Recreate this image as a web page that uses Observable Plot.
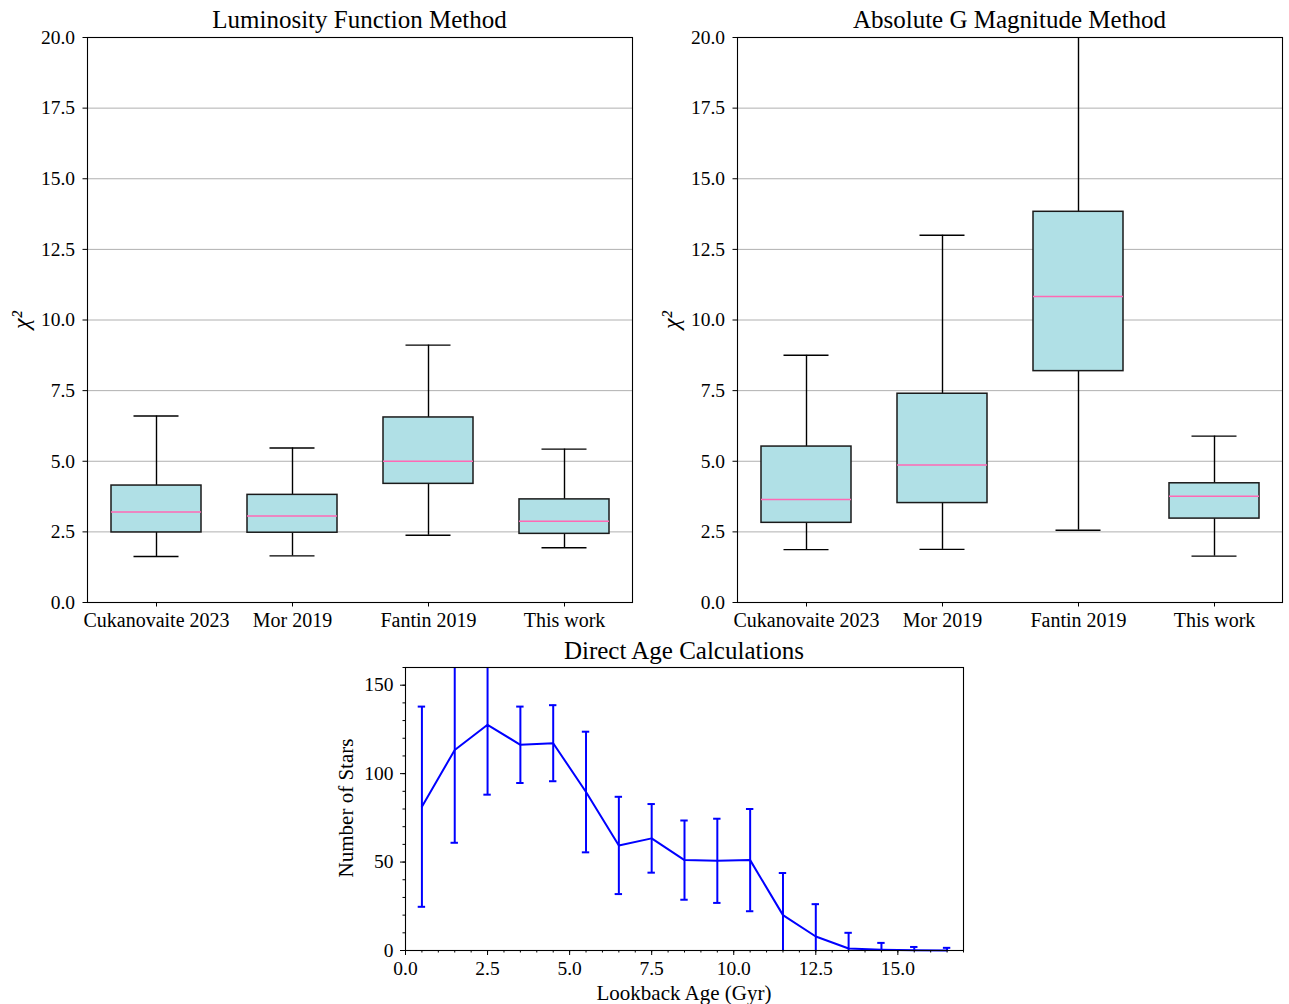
<!DOCTYPE html>
<html><head><meta charset="utf-8">
<script src="https://cdn.jsdelivr.net/npm/d3@7"></script>
<script src="https://cdn.jsdelivr.net/npm/@observablehq/plot@0.6"></script>
<style>
body{margin:0;background:#fff;}
#fig{position:relative;width:1289px;height:1004px;font-family:"Liberation Serif","Times New Roman",serif;color:#000;overflow:hidden;}
.p{position:absolute;}
.t{position:absolute;line-height:28px;white-space:nowrap;transform:translate(-50%,-50%);}
.yl{position:absolute;white-space:nowrap;line-height:1;transform:translate(-50%,-50%) rotate(-90deg);}
svg text{font-variant:normal;}
</style></head><body><div id="fig"></div>
<script>
// ---- data ----
const methods = ["Cukanovaite 2023", "Mor 2019", "Fantin 2019", "This work"];
const boxTicks = [0, 2.5, 5, 7.5, 10, 12.5, 15, 17.5, 20];

// Luminosity Function Method (whisker low, Q1, median, Q3, whisker high)
const lumLow  = [1.63, 1.65, 2.38, 1.94];
const lumQ1   = [2.48, 2.47, 4.20, 2.43];
const lumMed  = [3.20, 3.06, 5.00, 2.88];
const lumQ3   = [4.14, 3.81, 6.55, 3.65];
const lumHigh = [6.60, 5.47, 9.11, 5.43];

// Absolute G Magnitude Method
const absLow  = [1.87, 1.88, 2.56, 1.64];
const absQ1   = [2.82, 3.52, 8.19, 2.97];
const absMed  = [3.65, 4.87, 10.83, 3.76];
const absQ3   = [5.52, 7.39, 13.83, 4.22];
const absHigh = [8.75, 13.00, 21.5, 5.89];

// Direct Age Calculations
const ages   = [0.5, 1.5, 2.5, 3.5, 4.5, 5.5, 6.5, 7.5, 8.5, 9.5, 10.5, 11.5, 12.5, 13.5, 14.5, 15.5, 16.5];
const counts = [81.3, 113.4, 127.6, 116.3, 117.2, 89.6, 59.4, 63.4, 51.1, 50.7, 51.1, 20.0, 7.9, 1.1, 0.4, 0.1, 0.05];
const errs   = [56.6, 52.5, 39.5, 21.6, 21.5, 34.1, 27.5, 19.4, 22.4, 23.8, 28.9, 23.8, 18.3, 8.9, 3.9, 1.9, 1.45];
const ageMajor = [0, 2.5, 5, 7.5, 10, 12.5, 15];
const ageMinor = d3.range(0, 17.01, 0.5);
const starMajor = [0, 50, 100, 150];
const starMinor = d3.range(0, 161, 10);

// ---- drawing ----
const fig = document.getElementById("fig");
const FONT = "Liberation Serif, Times New Roman, serif";
const TICK_FS = 19.5;
const baseStyle = {fontFamily: FONT, fontSize: TICK_FS + "px", color: "black", background: "white", overflow: "visible"};

function boxChart(low, q1, med, q3, high, width, marginRight) {
  const rows = methods.map((m, i) => ({m, low: low[i], q1: q1[i], med: med[i], q3: q3[i], high: high[i]}));
  return Plot.plot({
    width, height: 640,
    marginLeft: 87, marginRight, marginTop: 37, marginBottom: 38,
    style: baseStyle,
    x: {type: "band", domain: methods, paddingInner: 0.34, paddingOuter: 0.17, label: null},
    y: {domain: [0, 20], label: null},
    marks: [
      Plot.gridY(boxTicks, {stroke: "#b0b0b0", strokeOpacity: 1, strokeWidth: 1}),
      Plot.ruleX(rows, {x: "m", y1: "low", y2: "q1", stroke: "black", strokeWidth: 1.4, clip: true}),
      Plot.ruleX(rows, {x: "m", y1: "q3", y2: "high", stroke: "black", strokeWidth: 1.4, clip: true}),
      Plot.tickY(rows, {x: "m", y: "low", inset: 22.5, stroke: "black", strokeWidth: 1.4, clip: true}),
      Plot.tickY(rows, {x: "m", y: "high", inset: 22.5, stroke: "black", strokeWidth: 1.4, clip: true}),
      Plot.barY(rows, {x: "m", y1: "q1", y2: "q3", fill: "#b0e0e6", stroke: "#1a1a1a", strokeWidth: 1.5}),
      Plot.tickY(rows, {x: "m", y: "med", stroke: "#ff69b4", strokeWidth: 1.5}),
      Plot.frame({stroke: "black", strokeWidth: 1.1}),
      Plot.axisX({tickSize: 4.5, tickPadding: 6, fontSize: 20, label: null}),
      Plot.axisY(boxTicks, {tickSize: 4.5, tickPadding: 8, fontSize: TICK_FS, tickFormat: d3.format(".1f"), label: null})
    ]
  });
}

function ageChart() {
  const rows = ages.map((a, i) => ({a, n: counts[i], e: errs[i]}));
  return Plot.plot({
    width: 683, height: 374,
    marginLeft: 105, marginRight: 20, marginTop: 37, marginBottom: 54,
    style: baseStyle,
    x: {domain: [0, 17], label: null},
    y: {domain: [0, 160], label: null},
    marks: [
      Plot.ruleX(rows, {x: "a", y1: d => d.n - d.e, y2: d => d.n + d.e, stroke: "blue", strokeWidth: 2, clip: true}),
      Plot.ruleY(rows, {x1: "a", x2: "a", y: d => d.n + d.e, insetLeft: -3.7, insetRight: -3.7, stroke: "blue", strokeWidth: 2, clip: true}),
      Plot.ruleY(rows, {x1: "a", x2: "a", y: d => d.n - d.e, insetLeft: -3.7, insetRight: -3.7, stroke: "blue", strokeWidth: 2, clip: true}),
      Plot.line(rows, {x: "a", y: "n", stroke: "blue", strokeWidth: 2}),
      Plot.frame({stroke: "black", strokeWidth: 1.1}),
      Plot.axisX(ageMinor, {tickSize: 2.5, tickFormat: () => "", label: null}),
      Plot.axisX(ageMajor, {tickSize: 5, tickPadding: 6, fontSize: TICK_FS, tickFormat: d3.format(".1f"), label: null}),
      Plot.axisY(starMinor, {tickSize: 2.5, tickFormat: () => "", label: null}),
      Plot.axisY(starMajor, {tickSize: 5, tickPadding: 7, fontSize: TICK_FS, label: null})
    ]
  });
}

function place(node, left, top) {
  node.classList.add("p");
  node.style.left = left + "px";
  node.style.top = top + "px";
  fig.appendChild(node);
}
function label(text, x, y, cls, size, extra) {
  const d = document.createElement("div");
  d.className = cls;
  d.textContent = text;
  d.style.left = x + "px";
  d.style.top = y + "px";
  d.style.fontSize = size + "px";
  if (extra) Object.assign(d.style, extra);
  fig.appendChild(d);
}

place(boxChart(lumLow, lumQ1, lumMed, lumQ3, lumHigh, 645, 13), 0, 0);
place(boxChart(absLow, absQ1, absMed, absQ3, absHigh, 639, 7), 650, 0);
place(ageChart(), 300, 630);

label("Luminosity Function Method", 359.5, 20, "t", 25);
label("Absolute G Magnitude Method", 1009.5, 20, "t", 25);
label("Direct Age Calculations", 684, 651, "t", 25);
label("Lookback Age (Gyr)", 684, 993, "t", 21);
label("Number of Stars", 346, 808, "yl", 21);
label("χ²", 21, 320, "yl", 24, {fontStyle: "italic"});
label("χ²", 671, 320, "yl", 24, {fontStyle: "italic"});
</script>
</body></html>
